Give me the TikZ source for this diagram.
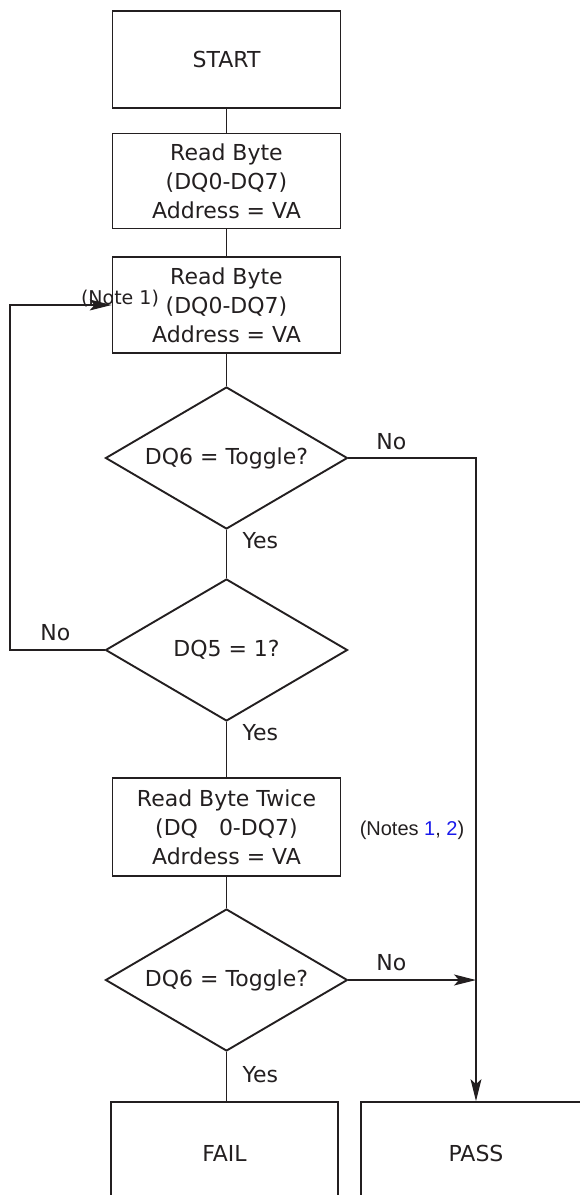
\documentclass[tikz,border=0pt]{standalone}
\usepackage{fontspec}
\setmainfont{DejaVu Sans}
\newfontfamily\notefont{Liberation Sans}
\usetikzlibrary{shapes.geometric,arrows.meta}
\definecolor{ink}{RGB}{35,31,32}
\definecolor{notelink}{RGB}{25,25,235}

\begin{document}
\begin{tikzpicture}[x=1pt,y=-1pt,color=ink,font=\fontsize{22}{29}\selectfont]

      \useasboundingbox (0,0) rectangle (579,1195);

      \begin{scope}[every node/.style={rectangle,draw,line width=1.8pt,minimum width=228pt,align=center,inner sep=0pt}]
        \node[minimum height=97pt] (start) at (226.5,59.5)  {START};
        \node[minimum height=95pt] (read1) at (226.5,181)   {Read Byte\\(DQ0-DQ7)\\Address = VA};
        \node[minimum height=96pt] (read2) at (226.5,305)   {Read Byte\\(DQ0-DQ7)\\Address = VA};
        \node[minimum height=98pt] (twice) at (226.5,827)   {Read Byte Twice\\(DQ~~~0-DQ7)\\Adrdess = VA};
        \node[minimum width=227pt,minimum height=102pt] (fail) at (224.5,1153) {FAIL};
        \node[minimum width=230pt,minimum height=102pt] (pass) at (476,1153)   {PASS};
      \end{scope}

      \begin{scope}[every node/.style={diamond,draw,line width=1.9pt,minimum width=242pt,minimum height=142pt,aspect=1.7,inner sep=0pt}]
        \node (tog1) at (226.5,458) {DQ6 = Toggle?};
        \node (dq5)  at (226.5,650) {DQ5 = 1?};
        \node (tog2) at (226.5,980) {DQ6 = Toggle?};
      \end{scope}

      \coordinate (loop) at (10,305);

      \begin{scope}[every node/.style={inner sep=2pt}]

        \begin{scope}[every edge/.style={draw,line width=1.1pt}]
          \path (start) edge (read1);
          \path (read1) edge (read2);
          \path (read2) edge (tog1);
          \path (tog1)  edge node[pos=.22,right=13.5pt] {Yes} (dq5);
          \path (dq5)   edge node[pos=.19,right=13.5pt] {Yes} (twice);
          \path (twice) edge (tog2);
          \path (tog2.south) edge node[pos=.47,right=13.5pt] {Yes} (tog2.south |- fail.north);
        \end{scope}

        \begin{scope}[line width=1.1pt,-{Stealth[length=22pt,width=11pt,inset=5pt]}]
          \draw (dq5.west) -| node[pos=.26,above=7pt] {No} (loop) -- (read2.west);
          \draw (tog1.east) -| node[pos=.168,above=6pt] {No} (pass.north);
          \draw (tog2.east) -- node[pos=.336,above=7pt] {No} (tog2.east -| pass.north);
        \end{scope}

        \node[font=\fontsize{19}{22}\selectfont] (note1) at (120,299) {(Note 1)};
        \node[font=\notefont\fontsize{20}{24}\selectfont] (notes) at (412,830)
          {(Notes {\color{notelink}1}, {\color{notelink}2})};

      \end{scope}

    \end{tikzpicture}
\end{document}
